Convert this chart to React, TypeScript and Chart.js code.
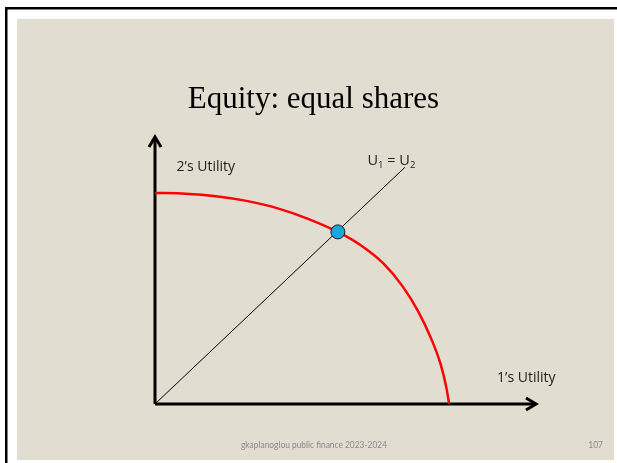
import React, { useEffect, useRef } from "react";
import { Chart, registerables } from "chart.js";

Chart.register(...registerables);

// ---- text ----
const TITLE = "Equity: equal shares";
const Y_LABEL = "2’s Utility";
const X_LABEL = "1’s Utility";
const FOOTER = "gkaplanoglou public finance 2023-2024";
const PAGE = "107";

// ---- data (utility units) ----
const X_MAX = 100;
const Y_MAX = 74;
const frontierX = [0, 8, 16, 24, 32, 40, 48, 54, 60, 65, 69, 72.5, 75, 76.5, 77.2];
const frontierY = [58.5, 58.3, 57.6, 56.3, 54.3, 51.4, 47.7, 44.0, 38.9, 32.6, 25.8, 18.1, 10.9, 4.4, 0];
const diagonalX = [0, 65.6];
const diagonalY = [0, 65.6];
const equalX = [48.0];
const equalY = [47.7];

const BEIGE = "#E2DDD1";
const LABEL_FONT = '"Open Sans", "DejaVu Sans", sans-serif';

export default function App() {
  const ref = useRef<HTMLCanvasElement>(null);

  useEffect(() => {
    document.body.style.margin = "0";
    const canvas = ref.current;
    if (!canvas) return;

    const slidePlugin = {
      id: "slide",
      beforeDraw(chart: any) {
        const ctx = chart.ctx;
        const w = chart.width;
        const h = chart.height;
        ctx.save();
        ctx.fillStyle = "#ffffff";
        ctx.fillRect(0, 0, w, h);
        ctx.fillStyle = "#000000";
        ctx.fillRect(5, 7, 2.5, h - 7);
        ctx.fillRect(5, 7, w - 5, 2.5);
        ctx.fillStyle = BEIGE;
        ctx.fillRect(17, 19, 597, 441);
        ctx.restore();
      },
      afterDatasetsDraw(chart: any) {
        const ctx = chart.ctx;
        const xs = chart.scales.x;
        const ys = chart.scales.y;
        const ox = xs.getPixelForValue(0);
        const oy = ys.getPixelForValue(0);
        const xt = xs.getPixelForValue(X_MAX);
        const yt = ys.getPixelForValue(Y_MAX);
        ctx.save();
        ctx.strokeStyle = "#000000";
        ctx.lineWidth = 3;
        ctx.lineJoin = "miter";
        ctx.lineCap = "butt";
        ctx.beginPath();
        ctx.moveTo(xt - 10, oy - 6);
        ctx.lineTo(xt, oy);
        ctx.lineTo(xt - 10, oy + 6);
        ctx.stroke();
        ctx.beginPath();
        ctx.moveTo(ox - 6, yt + 10);
        ctx.lineTo(ox, yt);
        ctx.lineTo(ox + 6, yt + 10);
        ctx.stroke();
        ctx.restore();
      },
      afterDraw(chart: any) {
        const ctx = chart.ctx;
        ctx.save();
        ctx.fillStyle = "#000000";
        ctx.textBaseline = "alphabetic";
        // title
        ctx.font = '31px "Liberation Serif", "Times New Roman", serif';
        ctx.textAlign = "center";
        ctx.fillText(TITLE, 313.5, 108);
        // axis labels
        ctx.textAlign = "left";
        ctx.fillStyle = "#222222";
        ctx.font = "14px " + LABEL_FONT;
        ctx.fillText(Y_LABEL, 176.5, 170.5, 61);
        ctx.fillText(X_LABEL, 497, 381.5, 59);
        // U1 = U2
        let x = 367.5;
        const base = 165;
        const big = "14.5px " + LABEL_FONT;
        const small = "9.5px " + LABEL_FONT;
        ctx.font = big;
        ctx.fillText("U", x, base);
        x += ctx.measureText("U").width;
        ctx.font = small;
        ctx.fillText("1", x, base + 3);
        x += ctx.measureText("1").width;
        ctx.font = big;
        ctx.fillText(" = ", x, base);
        x += ctx.measureText(" = ").width;
        ctx.fillText("U", x, base);
        x += ctx.measureText("U").width;
        ctx.font = small;
        ctx.fillText("2", x, base + 3);
        // footer
        ctx.fillStyle = "#8a8a8a";
        ctx.font = '8.5px Lato, "DejaVu Sans", sans-serif';
        ctx.textAlign = "center";
        ctx.fillText(FOOTER, 314, 448, 146);
        ctx.textAlign = "right";
        ctx.fillText(PAGE, 603, 448);
        ctx.restore();
      },
    };

    const toPts = (xs: number[], ys: number[]) => xs.map((v, i) => ({ x: v, y: ys[i] }));

    const chart = new Chart(canvas, {
      type: "scatter",
      data: {
        datasets: [
          {
            label: "equal",
            data: toPts(equalX, equalY),
            pointRadius: 7,
            pointHoverRadius: 7,
            backgroundColor: "#1CA6E0",
            borderColor: "#1b1b1b",
            borderWidth: 1,
            showLine: false,
            clip: false,
            order: 0,
          },
          {
            label: "frontier",
            data: toPts(frontierX, frontierY),
            showLine: true,
            borderColor: "#FF0000",
            borderWidth: 2.5,
            pointRadius: 0,
            cubicInterpolationMode: "monotone",
            clip: false,
            order: 1,
          },
          {
            label: "diagonal",
            data: toPts(diagonalX, diagonalY),
            showLine: true,
            borderColor: "#000000",
            borderWidth: 1,
            pointRadius: 0,
            clip: false,
            order: 2,
          },
          {
            label: "xAxis",
            data: [{ x: 0, y: 0 }, { x: X_MAX, y: 0 }],
            showLine: true,
            borderColor: "#000000",
            borderWidth: 3,
            pointRadius: 0,
            clip: false,
            order: 3,
          },
          {
            label: "yAxis",
            data: [{ x: 0, y: 0 }, { x: 0, y: Y_MAX }],
            showLine: true,
            borderColor: "#000000",
            borderWidth: 3,
            pointRadius: 0,
            clip: false,
            order: 3,
          },
        ],
      } as any,
      options: {
        responsive: false,
        animation: false,
        devicePixelRatio: 1,
        layout: { padding: { left: 155, right: 81, top: 137, bottom: 59 } },
        scales: {
          x: { type: "linear", min: 0, max: X_MAX, display: false },
          y: { type: "linear", min: 0, max: Y_MAX, display: false },
        },
        plugins: {
          legend: { display: false },
          tooltip: { enabled: false },
          title: { display: false },
        },
        events: [],
      } as any,
      plugins: [slidePlugin],
    });

    return () => chart.destroy();
  }, []);

  return <canvas ref={ref} width={617} height={463} style={{ display: "block" }} />;
}
